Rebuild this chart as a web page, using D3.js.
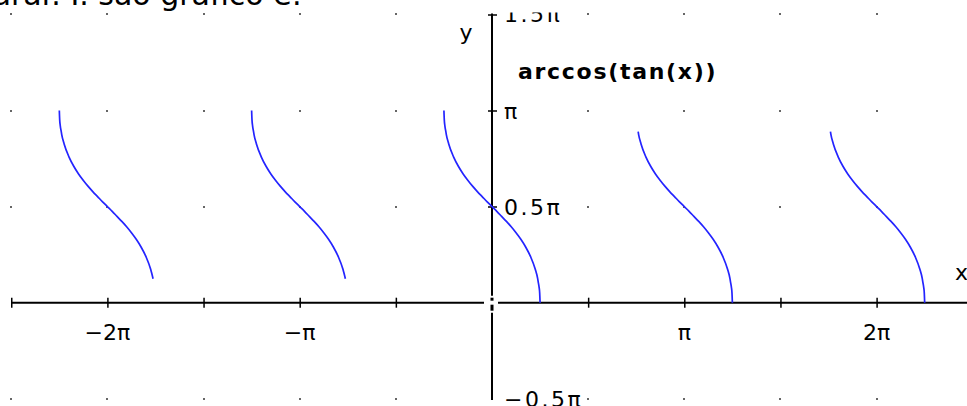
<!DOCTYPE html>
<html>
<head>
<meta charset="utf-8">
<script src="https://cdn.jsdelivr.net/npm/d3@7"></script>
<style>
  html, body { margin: 0; padding: 0; background: #fff; overflow: hidden; }
  svg { display: block; }
  text { font-family: "DejaVu Sans", Verdana, sans-serif; fill: #000; }
</style>
</head>
<body>
<svg id="chart" width="967" height="406"></svg>
<script>
// Caption line above the graph window (only its lower part shows)
const captionText = "urar. I. são gráfico é:";

// One branch of y = arccos(tan(x)), x measured from the branch centre, both in units of π
const shapeOffset = [-0.25, -0.248, -0.245, -0.24, -0.2375, -0.225, -0.2, -0.175, -0.15, -0.125, -0.1, -0.075, -0.05, -0.025,
                     0, 0.025, 0.05, 0.075, 0.1, 0.125, 0.15, 0.175, 0.2, 0.225, 0.2375, 0.24, 0.245, 0.248, 0.25];
const shapeValue  = [1.00, 0.95, 0.92, 0.89, 0.875, 0.826, 0.759, 0.71, 0.67, 0.636, 0.605, 0.577, 0.551, 0.525,
                     0.50, 0.475, 0.449, 0.423, 0.395, 0.364, 0.33, 0.29, 0.241, 0.174, 0.125, 0.11, 0.08, 0.05, 0.00];

// Branch centres (multiples of π) and the plotted span of each branch
const branchCenter = [-2, -1, 0, 1, 2];
const branchFrom   = [-0.25, -0.25, -0.25, -0.24, -0.24];
const branchTo     = [0.2375, 0.2375, 0.25, 0.25, 0.25];

// Axis ticks and labels (units of π)
const xTickValues = [-2.5, -2, -1.5, -1, -0.5, 0.5, 1, 1.5, 2];
const xLabelValues = [-2, -1, 1, 2];
const xLabelText = ["\u22122\u03c0", "\u2212\u03c0", "\u03c0", "2\u03c0"];
const yTickValues = [1.5, 1, 0.5];
const yLabelValues = [1.5, 1, 0.5, -0.5];
const yLabelText = ["1.5\u03c0", "\u03c0", "0.5\u03c0", "\u22120.5\u03c0"];
const gridX = [-2.5, -2, -1.5, -1, -0.5, 0.5, 1, 1.5, 2];
const gridY = [1.5, 1, 0.5, -0.5];

const svg = d3.select("#chart");
const W = 967, H = 406;

const x = d3.scaleLinear().domain([-2.5, 2.5]).range([11.25, 972.75]);
const y = d3.scaleLinear().domain([-0.5, 1.5]).range([398.8, 14.4]);

// caption
svg.append("text")
  .attr("x", -8).attr("y", 5)
  .style("font-size", "30px")
  .text(captionText);

// graph window, clipped below the caption
svg.append("defs").append("clipPath").attr("id", "win")
  .append("rect").attr("x", 0).attr("y", 12.5).attr("width", W).attr("height", H - 12.5);
const g = svg.append("g").attr("clip-path", "url(#win)");
g.append("rect").attr("x", 0).attr("y", 12.5).attr("width", W).attr("height", H - 12.5).attr("fill", "#fff");

// grid dots
const dots = [];
gridX.forEach(a => gridY.forEach(b => dots.push([a, b])));
g.append("g").selectAll("rect").data(dots).join("rect")
  .attr("x", d => Math.round(x(d[0])) - 1)
  .attr("y", d => Math.round(y(d[1])) - 1)
  .attr("width", 2).attr("height", 2)
  .attr("fill", "#666");

// x axis (broken at the origin)
const x0 = x(0), y0 = y(0);
const axisG = g.append("g").attr("stroke", "#000");
axisG.append("line").attr("x1", x(-2.5)).attr("x2", x0 - 8).attr("y1", y0).attr("y2", y0).attr("stroke-width", 2);
axisG.append("line").attr("x1", x0 + 6).attr("x2", W).attr("y1", y0).attr("y2", y0).attr("stroke-width", 2);

const xAxis = d3.axisBottom(x).tickValues(xTickValues).tickFormat("").tickSize(5).tickSizeOuter(0);
const xa = g.append("g").attr("transform", `translate(0,${y0})`).call(xAxis);
xa.select(".domain").remove();
xa.selectAll(".tick line").attr("y1", -5).attr("y2", 5).attr("stroke", "#000").attr("stroke-width", 1.5);

// y axis (broken at the origin)
axisG.append("line").attr("x1", x0).attr("x2", x0).attr("y1", y(1.5) - 1).attr("y2", y0 - 7).attr("stroke-width", 2);
axisG.append("line").attr("x1", x0).attr("x2", x0).attr("y1", y0 - 5).attr("y2", y0 - 2).attr("stroke-width", 3);
axisG.append("line").attr("x1", x0).attr("x2", x0).attr("y1", y0 + 2).attr("y2", y0 + 8).attr("stroke-width", 3);
axisG.append("line").attr("x1", x0).attr("x2", x0).attr("y1", y0 + 10).attr("y2", 400).attr("stroke-width", 2);

const yAxis = d3.axisLeft(y).tickValues(yTickValues).tickFormat("").tickSize(4).tickSizeOuter(0);
const ya = g.append("g").attr("transform", `translate(${x0},0)`).call(yAxis);
ya.select(".domain").remove();
ya.selectAll(".tick line").attr("x1", -4).attr("x2", 5).attr("stroke", "#000").attr("stroke-width", 1.5);

// tick labels
g.append("g").selectAll("text").data(xLabelValues).join("text")
  .attr("x", d => x(d)).attr("y", y0 + 37)
  .attr("text-anchor", "middle")
  .style("font-size", "22px")
  .text((d, i) => xLabelText[i]);

g.append("g").selectAll("text").data(yLabelValues).join("text")
  .attr("x", x0 + 12).attr("y", d => y(d) + 8)
  .style("font-size", "22px")
  .style("letter-spacing", "2.5px")
  .text((d, i) => yLabelText[i]);

// axis names
g.append("text").attr("x", 466).attr("y", 40).attr("text-anchor", "middle").style("font-size", "22px").text("y");
g.append("text").attr("x", 955).attr("y", 280).style("font-size", "22px").text("x");

// function name
g.append("text").attr("x", 518).attr("y", 79)
  .style("font-size", "22px").style("font-weight", "bold").style("letter-spacing", "1.7px")
  .text("arccos(tan(x))");

// branches
const line = d3.line().x(d => x(d[0])).y(d => y(d[1])).curve(d3.curveMonotoneX);
const branches = branchCenter.map((c, i) =>
  shapeOffset.map((o, j) => [o, shapeValue[j]])
    .filter(p => p[0] >= branchFrom[i] - 1e-9 && p[0] <= branchTo[i] + 1e-9)
    .map(p => [c + p[0], p[1]]));

g.append("g").selectAll("path").data(branches).join("path")
  .attr("d", line)
  .attr("fill", "none")
  .attr("stroke", "#2424ff")
  .attr("stroke-width", 1.7);
</script>
</body>
</html>
